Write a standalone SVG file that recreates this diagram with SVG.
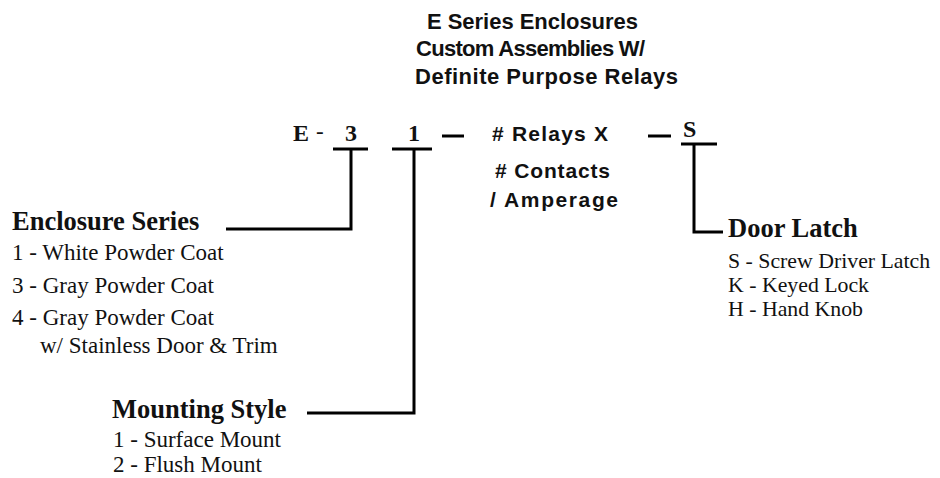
<svg xmlns="http://www.w3.org/2000/svg" width="940" height="478" viewBox="0 0 940 478">
<style>
.ttl{font-family:"Liberation Sans",Arial,sans-serif;font-weight:bold;font-size:22px;fill:#111}
.code{font-family:"Liberation Serif","Times New Roman",serif;font-weight:bold;font-size:24px;fill:#111}
.hd{font-family:"Liberation Serif","Times New Roman",serif;font-weight:bold;font-size:26.5px;fill:#111}
.it{font-family:"Liberation Serif","Times New Roman",serif;font-size:23px;fill:#111}
.dl{font-size:21.8px}
.rl{font-family:"Liberation Sans",Arial,sans-serif;font-weight:bold;font-size:21px;fill:#111}
.ln{fill:none;stroke:#000;stroke-width:3}
</style>
<rect width="940" height="478" fill="#fff"/>
<g id="title">
<text class="ttl" x="427" y="29" textLength="211" lengthAdjust="spacing">E Series Enclosures</text>
<text class="ttl" x="416" y="56" textLength="229" lengthAdjust="spacing">Custom Assemblies W/</text>
<text class="ttl" x="415" y="84" textLength="263" lengthAdjust="spacing">Definite Purpose Relays</text>
</g>
<g id="code">
<text class="code" x="293" y="141">E</text>
<text class="it" x="316" y="139" font-size="24">-</text>
<text class="code" x="345" y="141">3</text>
<text class="code" x="408" y="141">1</text>
<text class="code" x="683" y="137">S</text>
</g>
<g id="relays">
<text class="rl" x="492" y="141" textLength="116" lengthAdjust="spacing"># Relays X</text>
<text class="rl" x="495" y="178" textLength="115" lengthAdjust="spacing"># Contacts</text>
<text class="rl" x="490" y="207" textLength="128" lengthAdjust="spacing">/ Amperage</text>
</g>
<g id="enclosure-series">
<text class="hd" x="12" y="230" font-size="27">Enclosure Series</text>
<text class="it" x="12" y="260">1 - White Powder Coat</text>
<text class="it" x="12" y="293">3 - Gray Powder Coat</text>
<text class="it" x="12" y="325">4 - Gray Powder Coat</text>
<text class="it" x="40" y="353">w/ Stainless Door &amp; Trim</text>
</g>
<g id="mounting-style">
<text class="hd" x="112" y="418">Mounting Style</text>
<text class="it" x="113" y="447">1 - Surface Mount</text>
<text class="it" x="113" y="472">2 - Flush Mount</text>
</g>
<g id="door-latch">
<text class="hd" x="728" y="237">Door Latch</text>
<text class="it dl" x="728" y="268">S - Screw Driver Latch</text>
<text class="it dl" x="728" y="292">K - Keyed Lock</text>
<text class="it dl" x="728" y="316">H - Hand Knob</text>
</g>
<g id="connectors">
<line class="ln" x1="333" y1="149" x2="368" y2="149"/>
<polyline class="ln" points="226,229 351,229 351,149"/>
<line class="ln" x1="392" y1="149" x2="432" y2="149"/>
<polyline class="ln" points="307,413 414,413 414,149"/>
<line class="ln" x1="442" y1="136" x2="464" y2="136"/>
<line class="ln" x1="648" y1="136" x2="671" y2="136"/>
<line class="ln" x1="681" y1="144" x2="717" y2="144"/>
<polyline class="ln" points="694,144 694,232 723,232"/>
</g>
</svg>
